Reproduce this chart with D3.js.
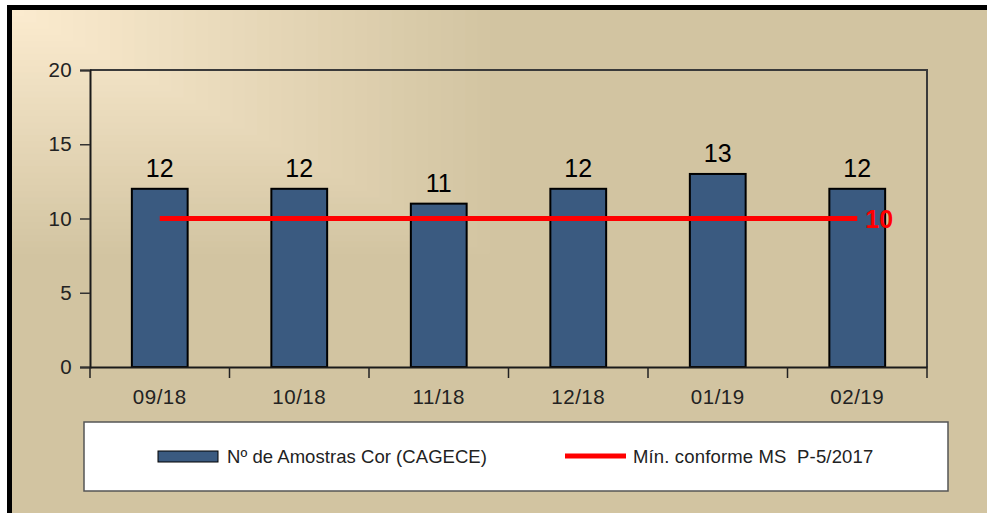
<!DOCTYPE html>
<html>
<head>
<meta charset="utf-8">
<title>Amostras Cor</title>
<script src="https://d3js.org/d3.v7.min.js"></script>
<style>
  html, body { margin: 0; padding: 0; overflow: hidden; background: #fff; font-family: "Liberation Sans", Arial, sans-serif; }
  svg { display: block; }
  svg text { white-space: pre; }
</style>
</head>
<body>
<svg id="chart" width="987" height="513"></svg>
<script>
// data
var months = ["09/18", "10/18", "11/18", "12/18", "01/19", "02/19"];
var amostras = [12, 12, 11, 12, 13, 12];
var minimo = [10, 10, 10, 10, 10, 10];
var yTicks = [0, 5, 10, 15, 20];
var legendLabels = ["Nº de Amostras Cor (CAGECE)", "Mín. conforme MS  P-5/2017"];

var svg = d3.select("#chart");

// outer frame and beige background (right/bottom edges fall off the picture)
svg.append("rect").attr("x", 9.5).attr("y", 7.5).attr("width", 1010).attr("height", 540)
  .attr("fill", "#d2c4a1").attr("stroke", "#000").attr("stroke-width", 5);

// rectangular gradient from top-left corner
var steps = d3.range(40, 0, -1);
var shade = d3.interpolateRgb("#d2c4a1", "#fcecd0");
svg.append("g").selectAll("rect").data(steps).enter().append("rect")
  .attr("x", 12).attr("y", 10)
  .attr("width", function(d) { return 490 * d / 40; })
  .attr("height", function(d) { return 250 * d / 40; })
  .attr("fill", function(d) { return shade(1 - d / 40); });

var margin = {top: 70, left: 90, right: 927, bottom: 367};

var x = d3.scaleBand().domain(months).range([margin.left, margin.right]).paddingInner(0).paddingOuter(0);
var y = d3.scaleLinear().domain([0, 20]).range([margin.bottom, margin.top]);

// plot border top / right
svg.append("path")
  .attr("d", "M" + margin.left + "," + margin.top + "H" + margin.right + "V" + margin.bottom)
  .attr("fill", "none").attr("stroke", "#3a3a3a").attr("stroke-width", 2);

// bars
var barW = x.bandwidth() * 0.4;
svg.append("g").selectAll("rect").data(amostras).enter().append("rect")
  .attr("x", function(d, i) { return x(months[i]) + x.bandwidth() / 2 - barW / 2; })
  .attr("y", function(d) { return y(d); })
  .attr("width", barW)
  .attr("height", function(d) { return y(0) - y(d); })
  .attr("fill", "#3a5a80").attr("stroke", "#000").attr("stroke-width", 2);

// bar value labels
svg.append("g").selectAll("text").data(amostras).enter().append("text")
  .attr("x", function(d, i) { return x(months[i]) + x.bandwidth() / 2; })
  .attr("y", function(d) { return y(d) - 12; })
  .attr("text-anchor", "middle").attr("font-size", 25).attr("fill", "#000")
  .text(function(d) { return d; });

// y axis
var yAxis = svg.append("g").attr("transform", "translate(" + margin.left + ",0)")
  .call(d3.axisLeft(y).tickValues(yTicks).tickSize(10).tickPadding(8));
yAxis.select(".domain").attr("stroke", "#1a1a1a").attr("stroke-width", 2);
yAxis.selectAll(".tick line").attr("stroke", "#333").attr("stroke-width", 1.5);
yAxis.selectAll(".tick text").attr("font-size", 20.5).attr("fill", "#222")
  .attr("letter-spacing", 0.3)
  .attr("font-family", "Liberation Sans, Arial, sans-serif");

// x axis with ticks at category boundaries
var xAxis = svg.append("g").attr("transform", "translate(0," + margin.bottom + ")")
  .call(d3.axisBottom(x).tickSize(0).tickPadding(22));
xAxis.select(".domain").attr("stroke", "#1a1a1a").attr("stroke-width", 2);
xAxis.selectAll(".tick text").attr("font-size", 20.5).attr("fill", "#222")
  .attr("letter-spacing", 0.5)
  .attr("font-family", "Liberation Sans, Arial, sans-serif");
var bounds = months.map(function(m) { return x(m); }).concat([margin.right]);
xAxis.selectAll("line.bound").data(bounds).enter().append("line")
  .attr("class", "bound")
  .attr("x1", function(d) { return d; }).attr("x2", function(d) { return d; })
  .attr("y1", 0).attr("y2", 11)
  .attr("stroke", "#222").attr("stroke-width", 1.5);

// red minimum line
var line = d3.line()
  .x(function(d, i) { return x(months[i]) + x.bandwidth() / 2; })
  .y(function(d) { return y(d); });
svg.append("path").datum(minimo).attr("d", line)
  .attr("fill", "none").attr("stroke", "#ff0000").attr("stroke-width", 5);
var last = minimo.length - 1;
svg.append("text")
  .attr("x", x(months[last]) + x.bandwidth() / 2 + 8)
  .attr("y", y(minimo[last]) + 9)
  .attr("font-size", 25).attr("font-weight", "bold").attr("fill", "#ff0000")
  .text(minimo[last]);

// legend
var leg = svg.append("g");
leg.append("rect").attr("x", 84).attr("y", 422).attr("width", 864).attr("height", 69)
  .attr("fill", "#fff").attr("stroke", "#555").attr("stroke-width", 1.5);
leg.append("rect").attr("x", 158).attr("y", 451).attr("width", 60).attr("height", 11)
  .attr("fill", "#3a5a80").attr("stroke", "#000").attr("stroke-width", 1);
leg.append("text").attr("x", 227).attr("y", 463).attr("font-size", 18.5).attr("fill", "#222")
  .attr("letter-spacing", 0.05)
  .text(legendLabels[0]);
leg.append("line").attr("x1", 565).attr("x2", 626).attr("y1", 456).attr("y2", 456)
  .attr("stroke", "#ff0000").attr("stroke-width", 5);
leg.append("text").attr("x", 633).attr("y", 463).attr("font-size", 18.5).attr("fill", "#222")
  .attr("letter-spacing", 0.15)
  .text(legendLabels[1]);
</script>
</body>
</html>
